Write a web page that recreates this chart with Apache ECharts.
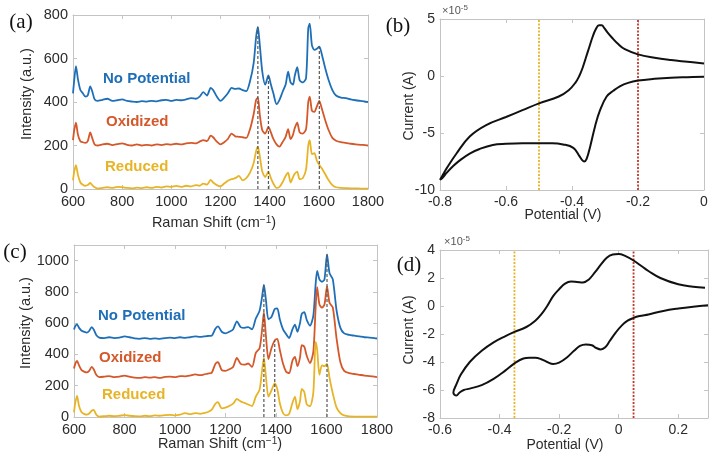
<!DOCTYPE html>
<html><head><meta charset="utf-8">
<script src="https://cdn.jsdelivr.net/npm/echarts@6.0.0/dist/echarts.min.js"></script>
<style>html,body{margin:0;padding:0;background:#fff}#c{width:712px;height:462px}</style>
</head><body><div id="c"></div><script>
// ---------- DATA ----------
const ramanShift = [600,605,612,620,630,640,650,660,670,678,
 688,700,720,740,760,780,800,820,840,860,
 880,900,920,940,960,980,1000,1020,1040,1060,
 1080,1100,1115,1130,1145,1160,1170,1185,1200,1215,
 1230,1245,1260,1275,1290,1305,1320,1335,1345,1352,
 1360,1370,1382,1395,1405,1415,1428,1440,1452,1465,
 1475,1485,1495,1502,1512,1522,1535,1548,1557,1563,
 1572,1582,1592,1602,1612,1625,1640,1655,1670,1690,
 1710,1730,1750,1770,1790,1800];

// Panel (a)
const aNoPotential = [440,500,565,505,455,440,425,430,472,450,
 412,405,410,415,405,408,412,405,402,400,
 404,402,405,403,408,410,405,410,408,412,
 418,415,425,445,430,465,455,425,405,420,
 440,465,460,462,455,450,495,580,700,745,
 660,540,480,522,480,440,390,410,445,480,
 540,490,480,520,560,500,490,510,740,760,
 660,640,645,655,620,560,500,455,430,420,
 418,412,408,405,402,400];
const aOxidized = [225,270,305,250,220,215,212,220,260,235,
 205,200,205,208,202,206,210,203,200,205,
 200,203,200,205,202,206,204,208,205,210,
 212,210,218,225,220,245,238,218,205,215,
 230,255,242,240,238,235,275,345,410,420,
 340,270,255,285,260,230,205,195,215,240,
 275,230,250,280,305,260,255,275,400,425,
 360,355,380,405,370,320,270,235,222,215,
 212,208,205,203,202,200];
const aReduced = [40,80,110,65,30,20,15,18,28,18,
 8,2,5,8,5,10,8,5,3,6,
 4,8,5,10,7,12,10,14,10,15,
 12,18,15,25,20,42,30,18,12,25,
 38,45,50,60,40,50,75,120,175,195,
 150,80,55,80,50,25,5,10,30,60,
 75,30,55,70,80,45,50,90,200,225,
 160,165,130,110,95,70,40,18,8,5,
 4,3,3,2,2,2];

// Panel (c)
const cNoPotential = [560,580,592,570,552,545,540,550,575,560,
 525,508,505,510,505,508,515,510,503,500,
 505,500,503,500,505,508,504,510,506,510,
 515,512,515,518,520,565,580,545,535,545,
 560,612,575,570,575,560,630,680,770,845,
 750,625,640,690,695,625,560,530,505,560,
 590,545,600,660,670,620,585,650,850,935,
 880,865,880,1040,920,880,680,570,535,525,
 520,515,510,508,505,502];
const cOxidized = [310,340,358,330,300,290,285,295,320,305,
 270,255,258,262,255,258,265,258,252,250,
 255,252,255,250,256,258,255,262,260,265,
 272,268,272,278,282,340,350,300,295,305,
 320,378,340,335,342,320,410,440,560,670,
 520,370,440,490,500,430,340,290,280,360,
 385,325,380,460,450,390,345,420,700,830,
 720,700,720,835,730,700,500,350,295,280,
 275,270,265,262,258,255];
const cReduced = [30,90,135,70,30,20,15,22,40,45,
 15,3,5,8,5,8,12,8,5,4,
 8,5,10,8,12,14,10,15,25,18,
 25,20,25,32,45,85,95,55,60,70,
 85,115,100,90,80,70,130,175,300,380,
 260,130,170,215,180,90,25,10,20,90,
 130,50,100,180,160,80,70,160,480,430,
 270,330,325,340,250,150,60,25,10,4,
 3,3,2,2,2,2];

// reference (gray) lines on Raman panels: position and top value
const aRefShift = [1352, 1395, 1602];
const aRefTop = [745, 522, 655];
const cRefShift = [1352, 1395, 1602];
const cRefTop = [845, 490, 1040];

// Panel (b) cyclic voltammogram (current in 1e-5 A)
const bPotential = [0,-0.05,-0.1,-0.15,-0.2,-0.23,-0.255,-0.275,-0.295,-0.315,
 -0.33,-0.345,-0.356,-0.363,-0.37,-0.378,-0.396,-0.427,-0.46,-0.5,
 -0.55,-0.6,-0.64,-0.68,-0.71,-0.74,-0.76,-0.78,-0.793,-0.8,
 -0.79,-0.78,-0.75,-0.71,-0.66,-0.6,-0.55,-0.5,-0.44,-0.41,
 -0.39,-0.378,-0.368,-0.358,-0.348,-0.338,-0.328,-0.318,-0.31,-0.302,
 -0.292,-0.28,-0.26,-0.24,-0.2,-0.15,-0.1,-0.05,0];
const bCurrent = [-0.06,-0.1,-0.15,-0.25,-0.4,-0.6,-0.9,-1.3,-1.8,-3.0,
 -4.4,-6.2,-7.3,-7.5,-7.35,-7.0,-6.3,-6.0,-5.9,-5.9,
 -5.9,-5.95,-6.05,-6.4,-6.8,-7.4,-7.9,-8.5,-8.95,-9.1,
 -8.6,-8.1,-6.8,-5.3,-4.3,-3.6,-3.0,-2.4,-1.8,-1.25,
 -0.6,0.0,0.7,1.6,2.5,3.4,4.1,4.45,4.45,4.2,
 3.8,3.4,2.8,2.35,1.9,1.6,1.4,1.25,1.1];
const bMarkers = [-0.5, -0.2];

// Panel (d)
const dPotential = [0.3,0.25,0.2,0.15,0.1,0.07,0.05,0.03,0.01,-0.01,
 -0.03,-0.045,-0.06,-0.075,-0.09,-0.11,-0.13,-0.15,-0.175,-0.2,
 -0.22,-0.24,-0.26,-0.28,-0.3,-0.32,-0.35,-0.38,-0.42,-0.46,
 -0.5,-0.52,-0.535,-0.545,
 -0.555,-0.545,-0.53,-0.5,-0.46,-0.42,-0.38,-0.35,-0.31,-0.28,
 -0.26,-0.24,-0.22,-0.2,-0.18,-0.16,-0.14,-0.12,-0.1,-0.08,
 -0.06,-0.04,-0.02,0,0.02,0.05,0.08,0.1,0.14,0.2,
 0.25,0.29];
const dCurrent = [0.05,-0.05,-0.18,-0.35,-0.6,-0.72,-0.85,-1.05,-1.4,-1.9,
 -2.5,-2.95,-3.1,-3.0,-2.8,-2.75,-2.85,-3.2,-3.7,-4.05,
 -4.15,-4.0,-3.8,-3.7,-3.7,-3.75,-4.1,-4.6,-5.2,-5.65,
 -5.9,-6.0,-6.2,-6.4,
 -6.2,-5.6,-4.9,-4.0,-3.2,-2.6,-2.15,-1.85,-1.5,-1.05,
 -0.6,0.0,0.7,1.2,1.6,1.75,1.72,1.68,1.9,2.4,
 2.95,3.45,3.68,3.72,3.6,3.25,2.8,2.5,2.0,1.55,
 1.38,1.3];
const dMarkers = [-0.35, 0.05];

const seriesNames = ['No Potential', 'Oxidized', 'Reduced'];
// ---------- STYLE ----------
const BLUE = '#1f6fb8', ORANGE = '#d4582a', YELLOW = '#e8b427';
const FONT = '"Liberation Sans", Arial, Helvetica, sans-serif';
const SERIF = '"Liberation Serif", "Times New Roman", serif';
const FRAME = '#c4c4c4', TXT = '#2b2b2b';

const grids = [
  {left:73, top:15, width:295, height:174},
  {left:440, top:19, width:264, height:171},
  {left:74, top:245, width:303, height:172},
  {left:440, top:250, width:268, height:168}
];

const plain = v => String(Math.round(v * 1000) / 1000);

function axPair(g, min, max, interval, isX, fs, extra) {
  const common = {type:'value', gridIndex:g, min, max, interval,
    axisLine:{show:true, onZero:false, lineStyle:{color:FRAME, width:1}},
    axisTick:{show:true, inside:true, length:4, lineStyle:{color:FRAME}},
    splitLine:{show:false}};
  const main = Object.assign({}, common, {
    position: isX ? 'bottom' : 'left',
    axisLabel:Object.assign({color:TXT, fontFamily:FONT, fontSize:fs, margin:5, formatter:plain}, extra||{})
  });
  const other = Object.assign({}, common, {position: isX ? 'top' : 'right', axisLabel:{show:false}});
  return [main, other];
}

const xAxes = [].concat(
  axPair(0, 600, 1800, 200, true, 14.5),
  axPair(1, -0.8, 0, 0.2, true, 14),
  axPair(2, 600, 1800, 200, true, 14.5),
  axPair(3, -0.6, 0.3, 0.2, true, 14, {showMaxLabel:false})
);
const yAxes = [].concat(
  axPair(0, 0, 800, 200, false, 14.5),
  axPair(1, -10, 5, 5, false, 14),
  axPair(2, 0, 1100, 200, false, 14.5, {showMaxLabel:false}),
  axPair(3, -8, 4, 2, false, 14)
);

function zip(xs, ys){ return xs.map((x,i)=>[x, ys[i]]); }
function spectrum(g, ys, color){
  return {type:'line', xAxisIndex:2*g, yAxisIndex:2*g, data:zip(ramanShift, ys), showSymbol:false,
    smooth:0.25, lineStyle:{color, width:1.8}, itemStyle:{color}, silent:true, z:2};
}
function refLines(g, xs, tops){
  return xs.map((x,i)=>({type:'line', xAxisIndex:2*g, yAxisIndex:2*g, data:[[x,0],[x,tops[i]]], showSymbol:false,
    lineStyle:{color:'#555', width:1.2, type:[3,2]}, silent:true, z:3}));
}
function markerLines(g, xs, ymin, ymax){
  const cols = [YELLOW, '#c0392b'];
  return xs.map((x,i)=>({type:'line', xAxisIndex:2*g, yAxisIndex:2*g, data:[[x,ymin],[x,ymax]], showSymbol:false,
    lineStyle:{color:cols[i], width:1.8, type:[2,1.5]}, silent:true, z:1}));
}
function cv(g, xs, ys){
  return {type:'line', xAxisIndex:2*g, yAxisIndex:2*g, data:zip(xs, ys), showSymbol:false, smooth:0.4,
    lineStyle:{color:'#111', width:2}, silent:true, z:4};
}

const series = [].concat(
  [spectrum(0, aNoPotential, BLUE), spectrum(0, aOxidized, ORANGE), spectrum(0, aReduced, YELLOW)],
  refLines(0, aRefShift, aRefTop),
  markerLines(1, bMarkers, -10, 5),
  [cv(1, bPotential, bCurrent)],
  [spectrum(2, cNoPotential, BLUE), spectrum(2, cOxidized, ORANGE), spectrum(2, cReduced, YELLOW)],
  refLines(2, cRefShift, cRefTop),
  markerLines(3, dMarkers, -8, 4),
  [cv(3, dPotential, dCurrent)]
);

function txt(x, y, text, opts){
  return {type:'text', x, y, rotation:(opts&&opts.rot)||0, silent:true, style:Object.assign({
    text, fill:TXT, font:'14px ' + FONT, align:'center', verticalAlign:'middle',
    textAlign:'center', textVerticalAlign:'middle'}, (opts&&opts.style)||{})};
}
const supRich = {n:{fontSize:14.5, fontFamily:FONT, fill:TXT, color:TXT}, s:{fontSize:10, fontFamily:FONT, fill:TXT, color:TXT, verticalAlign:'top', padding:[0,0,6,0]}};
const supRichSmall = {n:{fontSize:11, fontFamily:FONT, fill:'#555', color:'#555'}, s:{fontSize:8, fontFamily:FONT, fill:'#555', color:'#555', padding:[0,0,6,0]}};
const lbl = (x,y,t,c)=>txt(x,y,t,{style:{fill:c, font:'bold 15px ' + FONT, align:'left', textAlign:'left'}});

const graphic = [
  txt(21, 22, '(a)', {style:{font:'21px ' + SERIF, fill:'#111'}}),
  txt(398, 26, '(b)', {style:{font:'21px ' + SERIF, fill:'#111'}}),
  txt(15, 252, '(c)', {style:{font:'21px ' + SERIF, fill:'#111'}}),
  txt(409, 265, '(d)', {style:{font:'21px ' + SERIF, fill:'#111'}}),
  txt(27, 94, 'Intensity (a.u.)', {rot:Math.PI/2, style:{font:'14.5px ' + FONT}}),
  txt(26, 323, 'Intensity (a.u.)', {rot:Math.PI/2, style:{font:'14.5px ' + FONT}}),
  txt(409, 106, 'Current (A)', {rot:Math.PI/2, style:{font:'14px ' + FONT}}),
  txt(409, 330, 'Current (A)', {rot:Math.PI/2, style:{font:'14px ' + FONT}}),
  txt(214, 223, '{n|Raman Shift (cm}{s|−1}{n|)}', {style:{rich:supRich}}),
  txt(220, 444, '{n|Raman Shift (cm}{s|−1}{n|)}', {style:{rich:supRich}}),
  txt(563, 215, 'Potential (V)', {style:{font:'14px ' + FONT}}),
  txt(565, 445, 'Potential (V)', {style:{font:'14px ' + FONT}}),
  txt(455, 11, '{n|×10}{s|-5}', {style:{rich:supRichSmall}}),
  txt(457, 242, '{n|×10}{s|-5}', {style:{rich:supRichSmall}}),
  lbl(103, 79, seriesNames[0], BLUE),
  lbl(106, 122, seriesNames[1], ORANGE),
  lbl(105, 167, seriesNames[2], YELLOW),
  lbl(98, 316, seriesNames[0], BLUE),
  lbl(99, 358, seriesNames[1], ORANGE),
  lbl(102, 395, seriesNames[2], YELLOW)
];

const chart = echarts.init(document.getElementById('c'), null, {renderer:'canvas'});
chart.setOption({
  animation:false, backgroundColor:'#fff',
  grid:grids, xAxis:xAxes, yAxis:yAxes, series, graphic
});
</script></body></html>
